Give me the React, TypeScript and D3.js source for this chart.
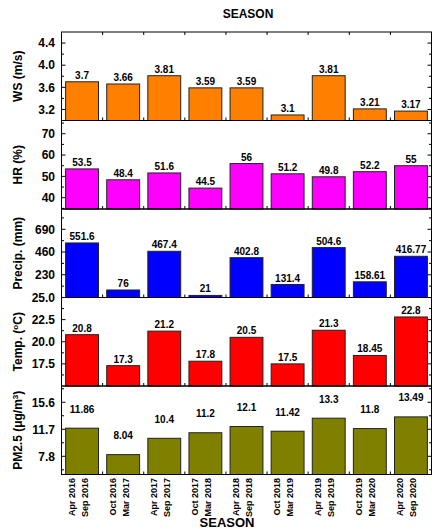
import React from "react";
import * as d3 from "d3";

const seasonStart = ["Apr 2016", "Oct 2016", "Apr 2017", "Oct 2017", "Apr 2018", "Oct 2018", "Apr 2019", "Oct 2019", "Apr 2020"];
const seasonEnd = ["Sep 2016", "Mar 2017", "Sep 2017", "Mar 2018", "Sep 2018", "Mar 2019", "Sep 2019", "Mar 2020", "Sep 2020"];

const wsValues = [3.7, 3.66, 3.81, 3.59, 3.59, 3.1, 3.81, 3.21, 3.17];
const hrValues = [53.5, 48.4, 51.6, 44.5, 56, 51.2, 49.8, 52.2, 55];
const precipValues = [551.6, 76, 467.4, 21, 402.8, 131.4, 504.6, 158.61, 416.77];
const tempValues = [20.8, 17.3, 21.2, 17.8, 20.5, 17.5, 21.3, 18.45, 22.8];
const pmValues = [11.86, 8.04, 10.4, 11.2, 12.1, 11.42, 13.3, 11.8, 13.49];

const wsTicks = [3.2, 3.6, 4.0, 4.4];
const wsMinor = [3.4, 3.8, 4.2];
const hrTicks = [40, 50, 60, 70];
const hrMinor = [35, 45, 55, 65, 75];
const precipTicks = [230, 460, 690];
const precipMinor = [115, 345, 575, 805];
const tempTicks = [17.5, 20.0, 22.5, 25.0];
const tempMinor = [16.25, 18.75, 21.25, 23.75];
const pmTicks = [7.8, 11.7, 15.6];
const pmMinor = [5.85, 9.75, 13.65, 17.55];

const FONT = "'Liberation Sans', Arial, Helvetica, sans-serif";

type Panel = {
  key: string;
  values: number[];
  domain: [number, number];
  ticks: number[];
  minor: number[];
  fmt: (v: number) => string;
  color: string;
  label: React.ReactNode;
  labelGap: number;
};

export default function App() {
  const W = 441;
  const H = 529;
  const left = 61.5;
  const right = 431.5;
  const top = 32;
  const bottom = 474.5;
  const ph = (bottom - top) / 5;

  const x = d3
    .scaleBand<number>()
    .domain(d3.range(seasonStart.length))
    .range([left, right])
    .paddingInner(0.2)
    .paddingOuter(0.1);

  const panels: Panel[] = [
    { key: "ws", values: wsValues, domain: [3.0, 4.6], ticks: wsTicks, minor: wsMinor, fmt: d3.format(".1f"), color: "#FF8000", label: "WS (m/s)", labelGap: 3 },
    { key: "hr", values: hrValues, domain: [34.7, 76.2], ticks: hrTicks, minor: hrMinor, fmt: d3.format("d"), color: "#FF00FF", label: "HR (%)", labelGap: 3 },
    { key: "pr", values: precipValues, domain: [0, 895], ticks: precipTicks, minor: precipMinor, fmt: d3.format("d"), color: "#0000FF", label: "Precip. (mm)", labelGap: 3 },
    {
      key: "t", values: tempValues, domain: [15, 25], ticks: tempTicks, minor: tempMinor, fmt: d3.format(".1f"), color: "#FF0000",
      label: (<>Temp. (<tspan dy={-4} fontSize={8}>o</tspan><tspan dy={4}>C)</tspan></>), labelGap: 3,
    },
    {
      key: "pm", values: pmValues, domain: [5.17, 17.95], ticks: pmTicks, minor: pmMinor, fmt: d3.format(".1f"), color: "#808000",
      label: (<>PM2.5 (μg/m<tspan dy={-4} fontSize={8}>3</tspan><tspan dy={4}>)</tspan></>), labelGap: 15.5,
    },
  ];

  const step = x.step();
  const boundaries = d3.range(1, seasonStart.length).map((k) => left + k * step);

  return (
    <svg width={W} height={H} style={{ position: "absolute", left: 0, top: 0 }} fontFamily={FONT}>
      <rect width={W} height={H} fill="#fff" />
      <text x={248} y={18} textAnchor="middle" fontWeight="bold" fontSize={12}>SEASON</text>
      {panels.map((p, i) => {
        const y0 = top + i * ph;
        const y1 = y0 + ph;
        const y = d3.scaleLinear().domain(p.domain).range([y1, y0]);
        return (
          <g key={p.key}>
            {p.values.map((v, j) => {
              const bx = x(j) as number;
              const by = y(v);
              return (
                <g key={j}>
                  <rect x={bx} y={by} width={x.bandwidth()} height={y1 - by} fill={p.color} stroke="#222" strokeWidth={1} />
                  <text x={bx + x.bandwidth() / 2} y={by - p.labelGap} textAnchor="middle" fontWeight="bold" fontSize={10}>
                    {String(v)}
                  </text>
                </g>
              );
            })}
            <rect x={left} y={y0} width={right - left} height={ph} fill="none" stroke="#000" strokeWidth={1} />
            {p.ticks.map((t) => (
              <g key={"t" + t}>
                <line x1={left} x2={left + 4} y1={y(t)} y2={y(t)} stroke="#000" />
                <line x1={right} x2={right - 4} y1={y(t)} y2={y(t)} stroke="#000" />
                <text x={55} y={y(t) + 4.3} textAnchor="end" fontWeight="bold" fontSize={12}>{p.fmt(t)}</text>
              </g>
            ))}
            {p.minor.map((t) => (
              <g key={"m" + t}>
                <line x1={left} x2={left + 2.5} y1={y(t)} y2={y(t)} stroke="#000" />
                <line x1={right} x2={right - 2.5} y1={y(t)} y2={y(t)} stroke="#000" />
              </g>
            ))}
            {boundaries.map((bx, k) => (
              <line key={"b" + k} x1={bx} x2={bx} y1={y1} y2={y1 - 3} stroke="#000" />
            ))}
            {i === 0 &&
              boundaries.map((bx, k) => (
                <line key={"tb" + k} x1={bx} x2={bx} y1={y0} y2={y0 + 3} stroke="#000" />
              ))}
            <text
              transform={`translate(22,${(y0 + y1) / 2}) rotate(-90)`}
              textAnchor="middle"
              fontWeight="bold"
              fontSize={12}
            >
              {p.label}
            </text>
          </g>
        );
      })}
      {seasonStart.map((s, j) => {
        const cx = (x(j) as number) + x.bandwidth() / 2;
        return (
          <g key={"xl" + j}>
            <text transform={`translate(${cx - 7.5},478) rotate(-90)`} textAnchor="end" fontWeight="bold" fontSize={9}>{s}</text>
            <text transform={`translate(${cx + 5.5},478) rotate(-90)`} textAnchor="end" fontWeight="bold" fontSize={9}>{seasonEnd[j]}</text>
          </g>
        );
      })}
      <text x={227} y={527} textAnchor="middle" fontWeight="bold" fontSize={13}>SEASON</text>
    </svg>
  );
}
